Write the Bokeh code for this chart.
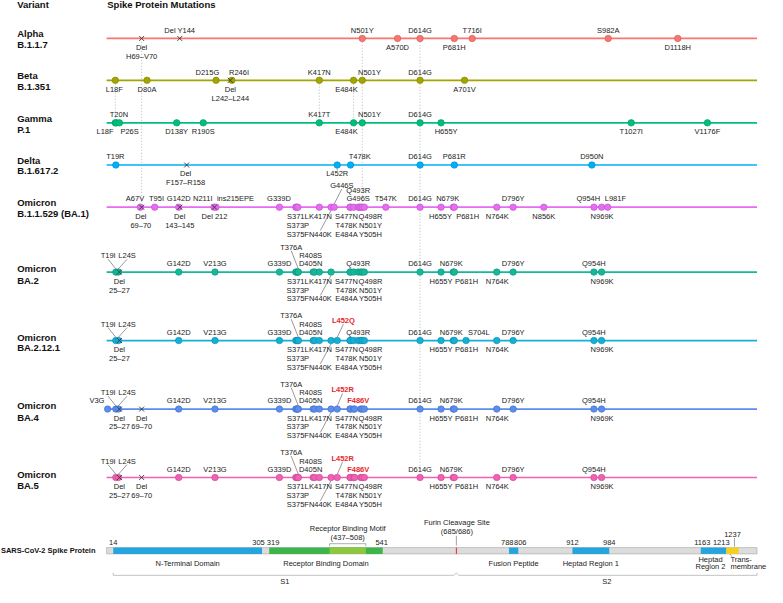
import re
from bokeh.plotting import figure
from bokeh.models import Range1d, ColumnDataSource
from bokeh.core.properties import value
from bokeh.embed import file_html
from bokeh.resources import INLINE

# ---------------- data ----------------
VARIANTS = ["Alpha", "Beta", "Gamma", "Delta", "Omicron", "Omicron", "Omicron", "Omicron", "Omicron"]
LINEAGES = ["B.1.1.7", "B.1.351", "P.1", "B.1.617.2", "B.1.1.529 (BA.1)", "BA.2", "BA.2.12.1", "BA.4", "BA.5"]
VARIANT_COLORS = ["#F8766D", "#A3A500", "#00BF7D", "#00B0F6", "#E76BF3",
                  "#14B89A", "#14B0D6", "#5B8DEE", "#F25FB4"]

ALPHA = ["Del\nH69–V70", "Del Y144", "N501Y", "A570D", "D614G", "P681H", "T716I", "S982A", "D1118H"]
BETA = ["L18F", "D80A", "D215G", "Del\nL242–L244", "R246I", "K417N", "E484K", "N501Y", "D614G", "A701V"]
GAMMA = ["L18F", "T20N", "P26S", "D138Y", "R190S", "K417T", "E484K", "N501Y", "D614G", "H655Y",
         "T1027I", "V1176F"]
DELTA = ["T19R", "Del\nF157–R158", "L452R", "T478K", "D614G", "P681R", "D950N"]
BA1 = ["A67V", "Del\n69–70", "T95I", "G142D", "Del\n143–145", "N211I", "Del 212", "ins215EPE", "G339D",
       "S371L", "S373P", "S375F", "K417N", "N440K", "G446S", "S477N", "T478K", "E484A", "Q493R", "G496S",
       "Q498R", "N501Y", "Y505H", "T547K", "D614G", "H655Y", "N679K", "P681H", "N764K", "D796Y", "N856K",
       "Q954H", "N969K", "L981F"]
BA2 = ["T19I", "L24S", "Del\n25–27", "G142D", "V213G", "G339D", "S371L", "S373P", "S375F", "T376A",
       "D405N", "R408S", "K417N", "N440K", "S477N", "T478K", "E484A", "Q493R", "Q498R", "N501Y", "Y505H",
       "D614G", "H655Y", "N679K", "P681H", "N764K", "D796Y", "Q954H", "N969K"]
BA2121 = ["T19I", "L24S", "Del\n25–27", "G142D", "V213G", "G339D", "S371L", "S373P", "S375F", "T376A",
          "D405N", "R408S", "K417N", "N440K", "L452Q", "S477N", "T478K", "E484A", "Q493R", "Q498R", "N501Y",
          "Y505H", "D614G", "H655Y", "N679K", "P681H", "S704L", "N764K", "D796Y", "Q954H", "N969K"]
BA4 = ["V3G", "T19I", "L24S", "Del\n25–27", "Del\n69–70", "G142D", "V213G", "G339D", "S371L", "S373P",
       "S375F", "T376A", "D405N", "R408S", "K417N", "N440K", "L452R", "S477N", "T478K", "E484A", "F486V",
       "Q498R", "N501Y", "Y505H", "D614G", "H655Y", "N679K", "P681H", "N764K", "D796Y", "Q954H", "N969K"]
BA5 = ["T19I", "L24S", "Del\n25–27", "Del\n69–70", "G142D", "V213G", "G339D", "S371L", "S373P",
       "S375F", "T376A", "D405N", "R408S", "K417N", "N440K", "L452R", "S477N", "T478K", "E484A", "F486V",
       "Q498R", "N501Y", "Y505H", "D614G", "H655Y", "N679K", "P681H", "N764K", "D796Y", "Q954H", "N969K"]
ROW_MUTATIONS = [ALPHA, BETA, GAMMA, DELTA, BA1, BA2, BA2121, BA4, BA5]
# newly emerging mutations highlighted in red, per row
ROW_HIGHLIGHT = [set(), set(), set(), set(), set(), set(), {"L452Q"}, {"L452R", "F486V"}, {"L452R", "F486V"}]

PROTEIN_LENGTH = 1273
DOMAINS = ["N-Terminal Domain", "Receptor Binding Domain", "Receptor Binding Motif", "Fusion Peptide",
           "Heptad Region 1", "Heptad\nRegion 2", "Trans-\nmembrane"]
DOMAIN_START = [14, 319, 437, 788, 912, 1163, 1213]
DOMAIN_END = [305, 541, 508, 806, 984, 1213, 1237]
DOMAIN_COLORS = ["#25A4DD", "#3DB54A", "#8DC63F", "#25A4DD", "#25A4DD", "#25A4DD", "#F6CF1D"]
FURIN_SITE = 685
SUBUNITS = ["S1", "S2"]
SUBUNIT_START = [14, 686]
SUBUNIT_END = [685, 1273]

# ---------------- layout (positions / styles only) ----------------
IMG_W, IMG_H = 783, 603
W, H = 767, 587
X_AT_0, PX_PER_AA = 107.8, 0.522
ROW_Y = [39, 82, 125.7, 169, 212.3, 279, 349.3, 419.7, 490]
NAME_DY = [(-5.3, 6), (-5.3, 6.3), (-4.5, 6.6), (-5, 6), (-4.5, 7), (-3.2, 8.5), (-3.3, 7.4), (-3.5, 9), (-3.3, 8.3)]
BAR_TOP, BAR_BOT = 562, 568.5

# label placement: mutation -> (level, shift in aa); level>0 above the line, <0 below
ALPHA_LAY = {"Del\nH69–V70": (-1, 0), "A570D": (-1, 0), "P681H": (-1, 0), "D1118H": (-1, 0)}
BETA_LAY = {"L18F": (-1, -2), "D80A": (-1, 0), "D215G": (1, -17), "Del\nL242–L244": (-1, 0),
            "R246I": (1, 14), "E484K": (-1, -14), "N501Y": (1, 14), "A701V": (-1, 0)}
GAMMA_LAY = {"L18F": (-1, -20), "T20N": (1, 5), "P26S": (-1, 20), "D138Y": (-1, 0), "R190S": (-1, 0),
             "E484K": (-1, -14), "N501Y": (1, 14), "H655Y": (-1, 10), "T1027I": (-1, 0), "V1176F": (-1, 0)}
DELTA_LAY = {"T19R": (1, -1), "Del\nF157–R158": (-1, -2), "L452R": (-1, 0), "T478K": (1, 18)}
BA1_LAY = {"A67V": (1, -10.5), "Del\n69–70": (-1, -1.5), "T95I": (1, 3.5), "Del\n143–145": (-1, 0),
           "N211I": (1, -22), "Del 212": (-1, 0), "ins215EPE": (1, 38), "G339D": (1, -1),
           "S371L": (-1, 4), "S373P": (-2, 2), "S375F": (-3, 0), "K417N": (-1, 2), "N440K": (-3, -21),
           "G446S": (2.65, 15), "S477N": (-1, -7), "T478K": (-2, -8), "E484A": (-3, -14),
           "Q493R": (2, 0), "G496S": (1, -3), "Q498R": (-1, 19), "N501Y": (-2, 16), "Y505H": (-3, 12),
           "H655Y": (-1, -1), "N679K": (1, -11), "P681H": (-1, 26), "N764K": (-1, 1), "N856K": (-1, 0),
           "Q954H": (1, -11), "N969K": (-1, 1), "L981F": (1, 15)}
OMI_LAY = {"T19I": (2, -15), "L24S": (2, 17), "Del\n25–27": (-1, 0), "Del\n69–70": (-1, 0),
           "S371L": (-1, 4), "S373P": (-2, 2), "S375F": (-3, 0), "T376A": (3.05, -14), "D405N": (1, -5),
           "R408S": (2, -8), "K417N": (-1, 2), "N440K": (-3, -21), "S477N": (-1, -7), "T478K": (-2, -8),
           "E484A": (-3, -14), "Q498R": (-1, 19), "N501Y": (-2, 16), "Y505H": (-3, 12), "H655Y": (-1, 0),
           "N679K": (1, -4), "P681H": (-1, 24), "N764K": (-1, 1), "N969K": (-1, 1),
           "L452Q": (2.42, 12), "S704L": (1, 25), "V3G": (1, -21), "L452R": (2.35, 10.6), "F486V": (1, 7)}
ROW_LAYOUT = [ALPHA_LAY, BETA_LAY, GAMMA_LAY, DELTA_LAY, BA1_LAY, OMI_LAY, OMI_LAY, OMI_LAY, OMI_LAY]
LEADERS = {"T19I", "L24S", "T376A", "N440K", "G446S", "L452Q", "L452R"}
# dotted connectors: (site, first row, last row)
CONNECTORS = [(69.5, 0, 4), (18, 1, 2), (417, 1, 2), (484, 1, 2), (501, 0, 4), (614, 0, 8)]
DOMAIN_LABEL_DX = {"Heptad\nRegion 2": -6, "Trans-\nmembrane": -4}

FONT = value("Liberation Sans")
TXT = "#222222"


def aa(px):
    return (px - X_AT_0) / PX_PER_AA


def site_of(m):
    nums = [int(n) for n in re.findall(r"\d+", m)]
    return sum(nums) / len(nums)


def level_off(L):
    return -8.4 * L if L > 0 else -9.2 * L


def darker(hexc, f=0.8):
    r, g, b = int(hexc[1:3], 16), int(hexc[3:5], 16), int(hexc[5:7], 16)
    return "#%02x%02x%02x" % (int(r * f), int(g * f), int(b * f))


p = figure(width=W, height=H, x_range=Range1d(aa(0), aa(IMG_W)), y_range=Range1d(IMG_H, 0),
           output_backend="svg", toolbar_location=None, min_border=0,
           x_axis_type=None, y_axis_type=None)
p.xgrid.visible = False
p.ygrid.visible = False
p.outline_line_color = None
p.background_fill_color = "white"
p.border_fill_color = "white"

# connectors
p.segment(x0=[c[0] for c in CONNECTORS], x1=[c[0] for c in CONNECTORS],
          y0=[ROW_Y[c[1]] + 3.4 for c in CONNECTORS], y1=[ROW_Y[c[2]] - 3.4 for c in CONNECTORS],
          line_color="#9A9A9A", line_width=0.7, line_dash="1 2")

# variant lines
p.segment(x0=[1] * len(ROW_Y), x1=[PROTEIN_LENGTH] * len(ROW_Y), y0=ROW_Y, y1=ROW_Y,
          line_color=VARIANT_COLORS, line_width=1.7)

norm = dict(x=[], y=[], text=[])
hi = dict(x=[], y=[], text=[])
lead = dict(x0=[], y0=[], x1=[], y1=[])
dots = dict(x=[], y=[], fill=[], line=[])
dels = dict(x=[], y=[])

for r, muts in enumerate(ROW_MUTATIONS):
    yr = ROW_Y[r]
    lay = ROW_LAYOUT[r]
    col = VARIANT_COLORS[r]
    for m in muts:
        s = site_of(m)
        if m.startswith("Del"):
            dels["x"].append(s)
            dels["y"].append(yr)
        else:
            dots["x"].append(s)
            dots["y"].append(yr)
            dots["fill"].append(col)
            dots["line"].append(darker(col))
        level, dx = lay.get(m, (1, 0))
        parts = m.split("\n")
        for i, t in enumerate(parts):
            L = level - i if level < 0 else level + i
            d = hi if m in ROW_HIGHLIGHT[r] else norm
            d["x"].append(s + dx)
            d["y"].append(yr + level_off(L))
            d["text"].append(t)
        if m in LEADERS:
            ly = yr + level_off(level)
            if level > 0:
                lead["x0"].append(s); lead["y0"].append(yr - 3.3)
                lead["x1"].append(s + dx); lead["y1"].append(ly + 3.6)
            else:
                lead["x0"].append(s); lead["y0"].append(yr + 3.3)
                lead["x1"].append(s + dx); lead["y1"].append(ly - 3.6)

p.segment(x0="x0", y0="y0", x1="x1", y1="y1", source=ColumnDataSource(lead),
          line_color="#555555", line_width=0.6)
p.scatter(x="x", y="y", source=ColumnDataSource(dots), marker="circle", size=6.5,
          fill_color="fill", line_color="line", line_width=0.6)
p.scatter(x="x", y="y", source=ColumnDataSource(dels), marker="x", size=7,
          line_color="#333333", line_width=0.9)
p.text(x="x", y="y", text="text", source=ColumnDataSource(norm), text_font=FONT,
       text_font_size="7.5px", text_align="center", text_baseline="middle", text_color=TXT)
p.text(x="x", y="y", text="text", source=ColumnDataSource(hi), text_font=FONT,
       text_font_size="7.5px", text_font_style="bold", text_align="center", text_baseline="middle",
       text_color="#E8262C")

# headers and variant names
p.text(x=[aa(17), aa(109)], y=[4.5, 4.5], text=["Variant", "Spike Protein Mutations"], text_font=FONT,
       text_font_size="9.5px", text_font_style="bold", text_align="left", text_baseline="middle",
       text_color="#111111")
nx, ny, nt = [], [], []
for r in range(len(VARIANTS)):
    nx += [aa(17), aa(17)]
    ny += [ROW_Y[r] + NAME_DY[r][0], ROW_Y[r] + NAME_DY[r][1]]
    nt += [VARIANTS[r], LINEAGES[r]]
p.text(x=nx, y=ny, text=nt, text_font=FONT, text_font_size="9.5px", text_font_style="bold",
       text_align="left", text_baseline="middle", text_color="#111111")

# ---------------- spike protein bar ----------------
p.text(x=[aa(97)], y=[565.3], text=["SARS-CoV-2 Spike Protein"], text_font=FONT, text_font_size="7.5px",
       text_font_style="bold", text_align="right", text_baseline="middle", text_color="#111111")
p.quad(left=[1], right=[PROTEIN_LENGTH], top=[BAR_TOP], bottom=[BAR_BOT], fill_color="#DCDCDC",
       line_color="#A8A8A8", line_width=0.6)
p.quad(left=DOMAIN_START, right=DOMAIN_END, top=[BAR_TOP] * len(DOMAINS), bottom=[BAR_BOT] * len(DOMAINS),
       fill_color=DOMAIN_COLORS, line_color=None)
p.segment(x0=[FURIN_SITE], x1=[FURIN_SITE], y0=[BAR_TOP], y1=[BAR_BOT], line_color="#E8262C", line_width=1)

# boundary numbers
ticks = sorted(set(DOMAIN_START + DOMAIN_END) - {DOMAIN_START[2], DOMAIN_END[2]})
tick_dx = {305: -7, 319: 7.5, 541: -2, 788: -3.5, 806: 4, 1163: 3, 1213: -10, 1237: -12}
tick_dy = {1237: 548.3}
p.text(x=[t + tick_dx.get(t, 0) for t in ticks], y=[tick_dy.get(t, 556.7) for t in ticks],
       text=[str(t) for t in ticks], text_font=FONT, text_font_size="7.5px", text_align="center",
       text_baseline="middle", text_color=TXT)
p.segment(x0=[DOMAIN_END[-1] - 8], x1=[DOMAIN_END[-1] - 8], y0=[552], y1=[561],
          line_color="#666666", line_width=0.6)

# receptor binding motif bracket + furin annotation
rbm_s, rbm_e = DOMAIN_START[2], DOMAIN_END[2]
p.text(x=[(rbm_s + rbm_e) / 2] * 2, y=[542.3, 551.7], text=["Receptor Binding Motif", "(437–508)"],
       text_font=FONT, text_font_size="7.5px", text_align="center", text_baseline="middle", text_color=TXT)
p.multi_line(xs=[[rbm_s, rbm_s, rbm_e, rbm_e]], ys=[[560.5, 558, 558, 560.5]], line_color="#777777",
             line_width=0.6)
p.text(x=[FURIN_SITE + 1] * 2, y=[536.7, 545], text=["Furin Cleavage Site", "(685/686)"],
       text_font=FONT, text_font_size="7.5px", text_align="center", text_baseline="middle", text_color=TXT)
p.segment(x0=[FURIN_SITE], x1=[FURIN_SITE], y0=[550], y1=[560], line_color="#666666", line_width=0.6)

# domain names
dn_x, dn_y, dn_t, dn_al = [], [], [], []
for i, name in enumerate(DOMAINS):
    if i == 2:
        continue
    parts = name.split("\n")
    cx = (DOMAIN_START[i] + DOMAIN_END[i]) / 2 + DOMAIN_LABEL_DX.get(name, 0)
    ys = [578.5] if len(parts) == 1 else [574, 581]
    trans = name.startswith("Trans")
    for t, yy in zip(parts, ys):
        dn_x.append(cx); dn_y.append(yy); dn_t.append(t)
        dn_al.append("left" if trans else "center")
p.text(x="x", y="y", text="t", text_align="al",
       source=ColumnDataSource(dict(x=dn_x, y=dn_y, t=dn_t, al=dn_al)),
       text_font=FONT, text_font_size="7.5px", text_baseline="middle", text_color=TXT)
p.segment(x0=[1220], x1=[1224], y0=[568.5], y1=[571.5], line_color="#777777", line_width=0.6)

# S1 / S2 bracket
by = 590.5
p.multi_line(xs=[[SUBUNIT_START[0], SUBUNIT_START[0], FURIN_SITE - 5, FURIN_SITE, FURIN_SITE + 5,
                  SUBUNIT_END[1], SUBUNIT_END[1]]],
             ys=[[588, by, by, 588, by, by, 588]], line_color="#9A9A9A", line_width=0.6)
p.text(x=[(SUBUNIT_START[i] + SUBUNIT_END[i]) / 2 for i in range(2)], y=[596.5, 596.5], text=SUBUNITS,
       text_font=FONT, text_font_size="7.5px", text_align="center", text_baseline="middle", text_color=TXT)

open("out.html", "w").write(file_html(p, INLINE))
